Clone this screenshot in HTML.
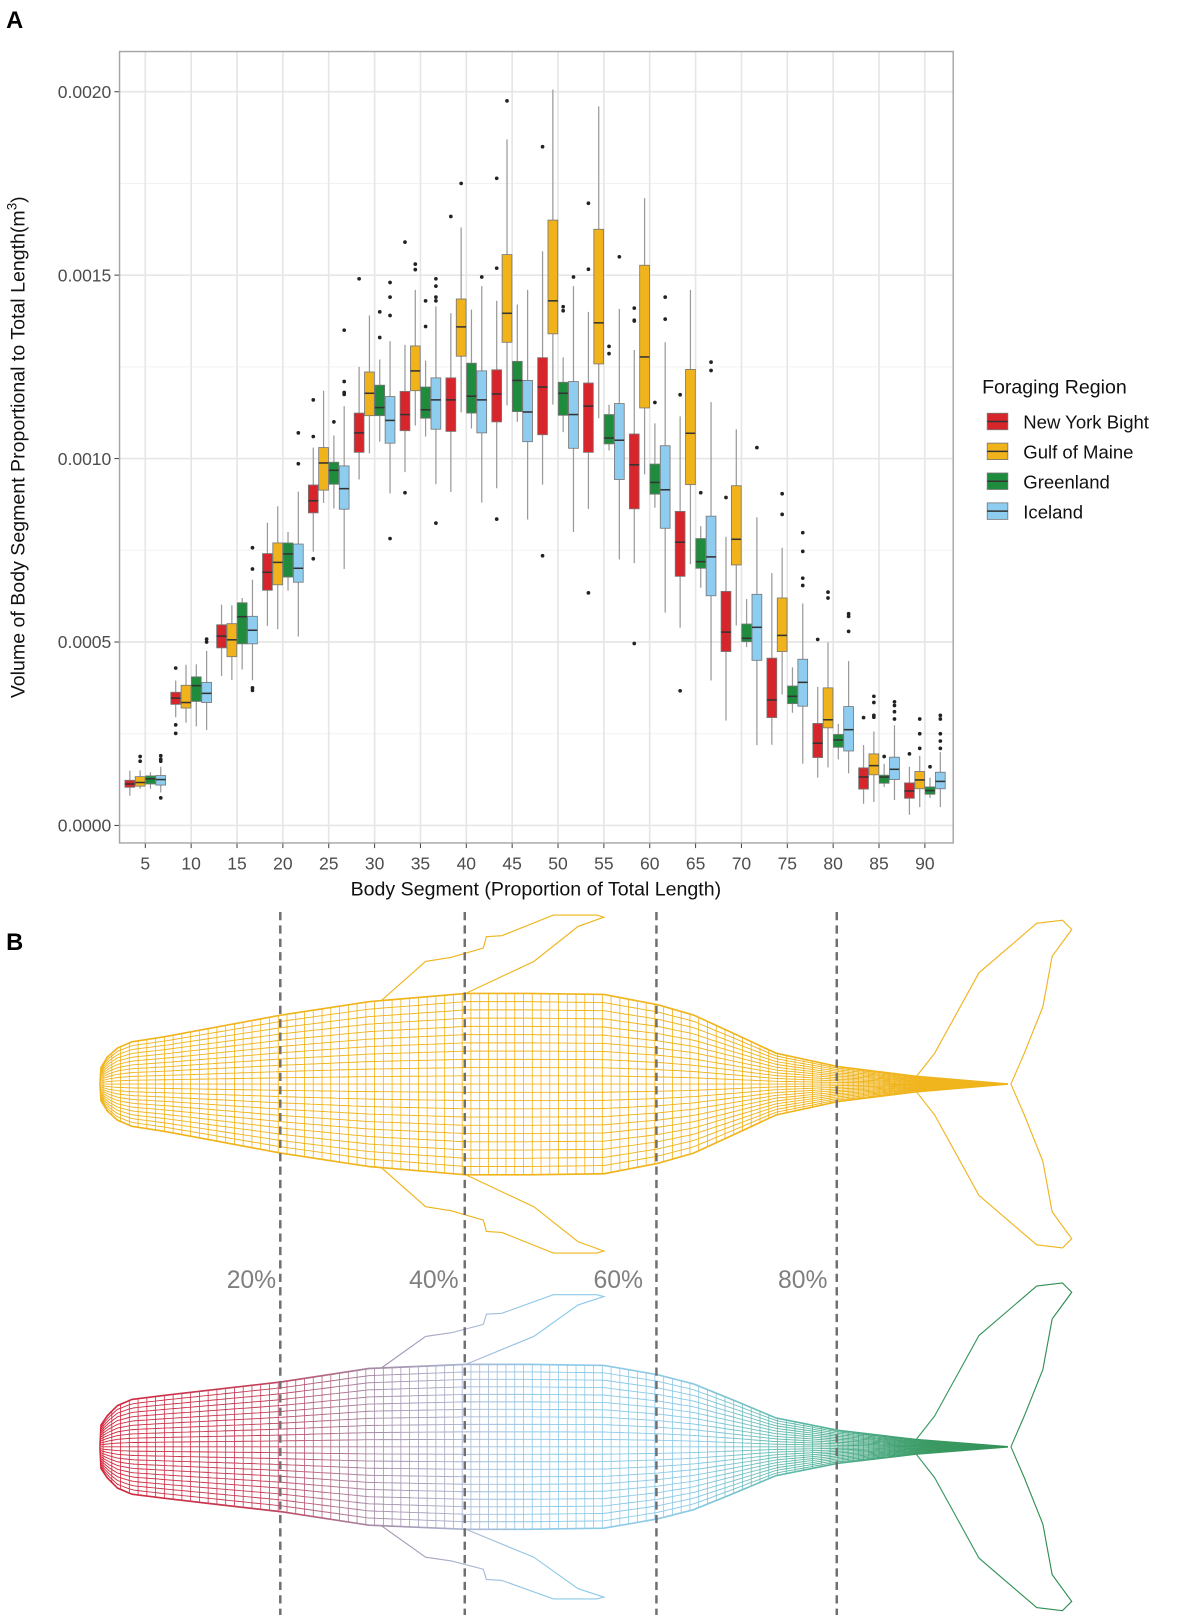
<!DOCTYPE html>
<html><head><meta charset="utf-8"><style>
html,body{margin:0;padding:0;background:#fff;}
svg{display:block;font-family:"Liberation Sans",sans-serif;}
</style></head><body>
<svg id="fig" width="1181" height="1615" viewBox="0 0 1181 1615" xmlns="http://www.w3.org/2000/svg">
<defs>
<linearGradient id="wgrad" gradientUnits="userSpaceOnUse" x1="97" y1="0" x2="1045" y2="0">
<stop offset="0" stop-color="#d3273c"/><stop offset="0.17" stop-color="#c2405a"/><stop offset="0.28" stop-color="#a58aa6"/><stop offset="0.38" stop-color="#a9b8d6"/><stop offset="0.45" stop-color="#8ecae8"/><stop offset="0.6" stop-color="#8ecae8"/><stop offset="0.72" stop-color="#5cb8a4"/><stop offset="0.85" stop-color="#3a9a62"/><stop offset="1" stop-color="#2e8b50"/>
</linearGradient>
</defs>
<g transform="scale(1.0305)">
<text x="6" y="27" font-size="23" font-weight="bold">A</text>
<text x="6" y="922" font-size="23" font-weight="bold">B</text>
<g id="chart"></g>
<g id="whales"></g>
</g>
</svg>
<script>
const categories = [5,10,15,20,25,30,35,40,45,50,55,60,65,70,75,80,85,90];
const regions = ["New York Bight","Gulf of Maine","Greenland","Iceland"];
const colors = ["#d7262b","#f1b31c","#1f8b3d","#8ecdf0"];
const yTicks = [0,0.0005,0.0010,0.0015,0.0020];
const yTickLabels = ["0.0000","0.0005","0.0010","0.0015","0.0020"];
// box stats [lower whisker, q1, median, q3, upper whisker] in units of 1e-4 m^3
const nybStats = [[0.81,1.04,1.13,1.23,1.49],[2.95,3.3,3.47,3.63,3.95],[4.07,4.84,5.16,5.47,6.02],[5.44,6.41,6.9,7.41,8.25],[7.46,8.52,8.85,9.28,10.3],[9.43,10.17,10.7,11.24,12.5],[9.63,10.76,11.2,11.83,13.1],[9.09,10.74,11.6,12.2,13.96],[9.19,11.0,11.76,12.42,14.3],[9.29,10.65,11.95,12.75,15.65],[8.63,10.17,11.43,12.06,14.0],[7.15,8.63,9.83,10.67,12.96],[5.39,6.79,7.72,8.56,11.15],[2.86,4.74,5.27,6.38,7.87],[2.2,2.94,3.42,4.56,6.88],[1.3,1.85,2.24,2.78,3.78],[0.59,0.99,1.32,1.57,2.19],[0.29,0.74,0.94,1.16,1.6]];
const gomStats = [[1.0,1.07,1.17,1.33,1.5],[2.8,3.2,3.35,3.82,4.38],[3.96,4.6,5.06,5.5,6.0],[5.35,6.56,7.17,7.7,8.7],[8.79,9.14,9.88,10.3,11.85],[10.14,11.17,11.78,12.36,13.9],[10.9,11.85,12.39,13.07,14.6],[11.26,12.79,13.59,14.35,16.3],[11.45,13.17,13.96,15.56,18.7],[11.47,13.4,14.3,16.5,20.06],[11.1,12.58,13.7,16.25,19.6],[9.57,11.38,12.77,15.27,17.1],[7.12,9.29,10.69,12.43,14.6],[5.45,7.1,7.8,9.26,10.8],[3.57,4.74,5.18,6.2,7.57],[1.58,2.66,2.88,3.75,4.99],[0.64,1.38,1.63,1.95,2.56],[0.5,1.0,1.24,1.47,1.9]];
const greStats = [[1.0,1.13,1.27,1.35,1.45],[2.7,3.38,3.81,4.05,4.39],[4.25,4.95,5.69,6.07,6.2],[6.4,6.77,7.4,7.7,8.0],[8.64,9.3,9.68,9.9,10.63],[10.46,11.17,11.39,12.0,12.7],[10.6,11.1,11.33,11.95,12.67],[10.82,11.24,11.7,12.6,14.06],[11.0,11.28,12.13,12.65,14.2],[10.72,11.18,11.78,12.08,12.76],[10.22,10.4,10.56,11.2,11.47],[8.66,9.03,9.35,9.85,10.96],[6.48,7.01,7.19,7.82,8.16],[4.86,5.01,5.1,5.49,6.17],[3.07,3.32,3.52,3.8,4.31],[1.8,2.13,2.33,2.48,2.77],[1.05,1.15,1.32,1.37,1.68],[0.75,0.85,0.95,1.05,1.3]];
const iceStats = [[0.9,1.1,1.25,1.36,1.6],[2.6,3.35,3.6,3.9,4.76],[3.96,4.95,5.32,5.7,6.7],[5.15,6.63,7.01,7.67,9.1],[6.99,8.62,9.18,9.8,11.43],[9.05,10.42,11.04,11.69,13.2],[9.3,10.8,11.6,12.2,14.15],[8.8,10.7,11.6,12.39,14.7],[8.34,10.46,11.27,12.13,14.6],[8.0,10.28,11.2,12.1,14.7],[7.25,9.43,10.5,11.5,14.08],[5.8,8.1,9.15,10.35,13.17],[3.95,6.26,7.32,8.43,11.54],[2.19,4.5,5.4,6.3,8.4],[1.68,3.25,3.9,4.53,6.05],[1.42,2.03,2.61,3.24,4.48],[0.69,1.25,1.53,1.86,2.73],[0.5,1.0,1.2,1.45,2.0]];
const nybOut = [[],[4.29,2.74,2.51],[],[],[11.6,10.6,7.27],[14.9],[15.9,9.07],[16.6],[17.64,15.19,8.35],[18.5,7.35],[16.96,15.16,6.34],[14.1,13.77,13.75,4.96],[11.74,3.67],[8.94],[],[5.07],[2.94],[1.95]];
const gomOut = [[1.88,1.75],[],[],[],[],[],[15.3,15.15],[17.5],[19.75],[],[],[],[],[],[9.04,8.48],[6.36,6.2],[3.52,3.35,3.0,2.95],[2.9,2.5,2.1]];
const greOut = [[],[],[],[],[11.0],[14.0,13.3],[14.3,13.6],[],[],[14.14,14.03],[13.06,12.86],[11.53],[9.07],[],[],[],[1.88],[1.6]];
const iceOut = [[1.9,1.8,1.75,0.75],[5.08,5.0],[7.57,6.99,3.75,3.68],[10.7,9.86],[13.5,12.1,11.8,11.75],[14.8,14.4,13.9,7.82],[14.9,14.7,14.4,14.3,8.24],[14.95],[],[14.95],[15.5],[14.4,13.8],[12.63,12.4],[10.3],[7.98,7.47,6.74,6.54],[5.77,5.7,5.29],[3.37,3.27,3.1,2.9],[3.0,2.9,2.5,2.3,2.1]];
const xTitle = "Body Segment (Proportion of Total Length)";
const legendTitle = "Foraging Region";

const NS="http://www.w3.org/2000/svg";
function mk(tag, attrs, parent){const e=document.createElementNS(NS,tag);for(const k in attrs)e.setAttribute(k,attrs[k]);parent.appendChild(e);return e;}
const L=116,R=925,T=50,B=818;
function yScale(v){return 801-(v/0.0005)*178;}
function yU(u){return yScale(u*1e-4);}
function xScale(i){return 141+i*44.5;}
const chart=document.getElementById('chart');
const panel=mk('rect',{x:L,y:T,width:R-L,height:B-T,fill:'#fff'},chart);


for(let i=0;i<yTicks.length-1;i++){const v=(yTicks[i]+yTicks[i+1])/2;const g=mk('line',{x1:L,x2:R,y1:yScale(v),y2:yScale(v),stroke:'#f2f2f2','stroke-width':1},chart);

}
yTicks.forEach((v,i)=>{const g=mk('line',{x1:L,x2:R,y1:yScale(v),y2:yScale(v),stroke:'#e6e6e6','stroke-width':1.6},chart);


mk('line',{x1:L-5,x2:L,y1:yScale(v),y2:yScale(v),stroke:'#444','stroke-width':1},chart);
const t=mk('text',{x:L-8,y:yScale(v)+6,'text-anchor':'end','font-size':17,fill:'#4d4d4d'},chart);t.textContent=yTickLabels[i];

});
categories.forEach((c,i)=>{const g=mk('line',{x1:xScale(i),x2:xScale(i),y1:T,y2:B,stroke:'#e6e6e6','stroke-width':1.6},chart);


mk('line',{x1:xScale(i),x2:xScale(i),y1:B,y2:B+5,stroke:'#444','stroke-width':1},chart);
const t=mk('text',{x:xScale(i),y:B+26,'text-anchor':'middle','font-size':17,fill:'#4d4d4d'},chart);t.textContent=c;

});
const stats=[nybStats,gomStats,greStats,iceStats];
const outs=[nybOut,gomOut,greOut,iceOut];
const offs=[-15,-5,5,15],bw=9.5;
stats.forEach((s,r)=>{s.forEach((st,i)=>{const cx=xScale(i)+offs[r];
const w=mk('line',{x1:cx,x2:cx,y1:yU(st[0]),y2:yU(st[4]),stroke:'#9a9a9a','stroke-width':1.2},chart);


const b=mk('rect',{x:cx-bw/2,y:yU(st[3]),width:bw,height:yU(st[1])-yU(st[3]),fill:colors[r],stroke:'#777','stroke-width':0.8},chart);


const m=mk('line',{x1:cx-bw/2,x2:cx+bw/2,y1:yU(st[2]),y2:yU(st[2]),stroke:'#333','stroke-width':1.5},chart);


outs[r][i].forEach(o=>{const d=mk('circle',{cx:cx,cy:yU(o),r:1.8,fill:'#222'},chart);

});});});
const border=mk('rect',{x:L,y:T,width:R-L,height:B-T,fill:'none',stroke:'#a6a6a6','stroke-width':1.4},chart);


const xt=mk('text',{x:520,y:869,'text-anchor':'middle','font-size':19,fill:'#111'},chart);xt.textContent=xTitle;


const yt=mk('text',{x:0,y:0,'text-anchor':'middle','font-size':19,fill:'#111',transform:'translate(24,434) rotate(-90)'},chart);


yt.appendChild(document.createTextNode('Volume of Body Segment Proportional to Total Length(m'));
const sup=mk('tspan',{'font-size':13,dy:-8},yt);sup.textContent='3';
const cl=mk('tspan',{dy:8},yt);cl.textContent=')';
const lt=mk('text',{x:953,y:382,'font-size':19,fill:'#111'},chart);lt.textContent=legendTitle;


regions.forEach((n,r)=>{const y0=398+r*29;
const g=mk('g',{},chart);


mk('rect',{x:958,y:y0+3,width:20,height:16,fill:colors[r],stroke:'#777','stroke-width':0.8},g);
mk('line',{x1:958,x2:978,y1:y0+11,y2:y0+11,stroke:'#333','stroke-width':1.5},g);
const t=mk('text',{x:993,y:y0+18,'font-size':18,fill:'#111'},g);t.textContent=n;});

const W=document.getElementById('whales');
const prof=[[97,0],[98,16],[104,26],[114,35],[128,41],[160,46],[203,54],[273,67],[358,80],[452,88],[512,88],[586,87],[638,77],[673,67],[710,50],[753,30],[813,17],[889,7.5],[978,0]];
const prof2=[[97,0],[98,21],[104,30],[114,40],[128,46],[160,50],[203,55],[273,63],[358,76],[452,80],[512,80],[586,79],[638,70],[673,61],[710,46],[753,28],[813,16],[889,7],[978,0]];
function hAt(p,x){for(let i=0;i<p.length-1;i++){const a=p[i],b=p[i+1];if(x>=a[0]&&x<=b[0])return a[1]+(b[1]-a[1])*(x-a[0])/(b[0]-a[0]);}return 0;}
const finPts=[[370,-81],[413,-119],[438,-123],[469,-132],[472,-143],[487,-144],[537,-164],[579,-164],[586,-162],[561,-153],[518,-119],[452,-88]];
const flukePts=[[889,-7],[907,-30],[950,-108],[1006,-156],[1031,-159],[1040,-150],[1021,-124],[1012,-75],[994,-30],[981,0]];
function whale(c,stroke,name,p,fs){const g=mk('g',{fill:'none',stroke:stroke},W);


for(let k=-11;k<=11;k++){let d='';for(let x=98;x<=978;x+=4){d+=(x===98?'M':'L')+x+','+(c+k/11*hAt(p,x)).toFixed(1);}
mk('path',{d:d,'stroke-width':0.9},g);}
const xs=[];for(let x=100;x<813;x+=8.5)xs.push(x);for(let x=813;x<975;x+=5)xs.push(x);
xs.forEach(x=>{const h=hAt(p,x);mk('line',{x1:x,x2:x,y1:c-h,y2:c+h,'stroke-width':0.8},g);});
let up='',dn='';p.forEach((q,i)=>{up+=(i?'L':'M')+q[0]+','+(c-q[1]);dn+=(i?'L':'M')+q[0]+','+(c+q[1]);});
mk('path',{d:up,'stroke-width':1.6},g);mk('path',{d:dn,'stroke-width':1.6},g);
[-1,1].forEach(sg=>{mk('polyline',{points:finPts.map((q,i)=>{let yy=q[1]*fs;if(i===0)yy=-hAt(p,q[0]);if(i===finPts.length-1)yy=-hAt(p,q[0]);return q[0]+','+(c+sg*yy);}).join(' '),'stroke-width':1.1},g);
mk('polyline',{points:flukePts.map(q=>q[0]+','+(c+sg*q[1])).join(' '),'stroke-width':1.1},g);});}
whale(1052,'#f0b41c','whale-top-gulf-of-maine',prof,1);
whale(1404,'url(#wgrad)','whale-bottom-gradient',prof2,0.9);
[272,451,637,812].forEach(x=>{const l=mk('line',{x1:x,x2:x,y1:885,y2:1570,stroke:'#6f6f6f','stroke-width':2.4,'stroke-dasharray':'8,5'},W);

});
[[244,'20%'],[421,'40%'],[600,'60%'],[779,'80%']].forEach(p=>{const t=mk('text',{x:p[0],y:1250,'text-anchor':'middle','font-size':24,fill:'#7f7f7f'},W);t.textContent=p[1];

});
</script>
</body></html>
